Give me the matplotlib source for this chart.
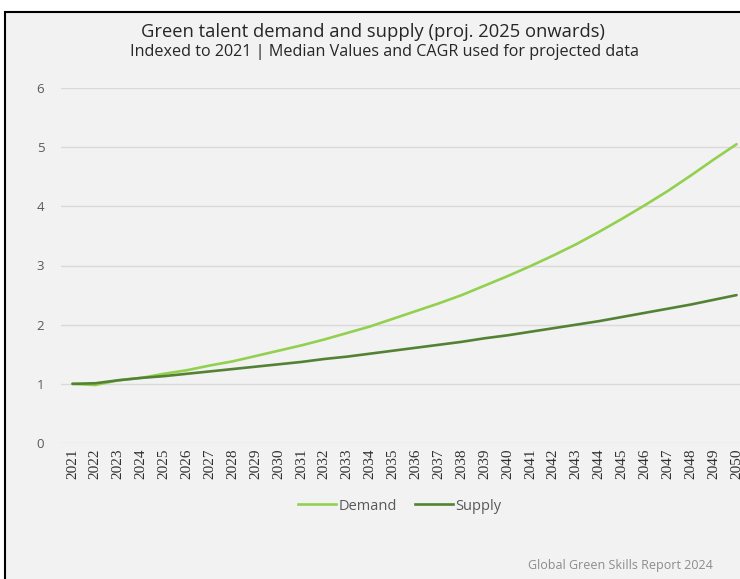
import matplotlib
matplotlib.use("Agg")
import matplotlib.pyplot as plt
from matplotlib.patches import Rectangle
from matplotlib.lines import Line2D

years = [str(y) for y in range(2021, 2051)]
demand = [1.00, 0.98, 1.06, 1.10, 1.17, 1.23, 1.31, 1.38, 1.47, 1.56,
          1.65, 1.75, 1.86, 1.97, 2.10, 2.23, 2.36, 2.50, 2.66, 2.82,
          2.99, 3.17, 3.36, 3.57, 3.79, 4.02, 4.26, 4.52, 4.79, 5.05]
supply = [1.00, 1.01, 1.06, 1.10, 1.13, 1.17, 1.21, 1.25, 1.29, 1.33,
          1.37, 1.42, 1.46, 1.51, 1.56, 1.61, 1.66, 1.71, 1.77, 1.82,
          1.88, 1.94, 2.00, 2.06, 2.13, 2.20, 2.27, 2.34, 2.42, 2.50]
yticks = [0, 1, 2, 3, 4, 5, 6]

W, H = 740, 579
fig = plt.figure(figsize=(W / 100, H / 100), dpi=100)
fig.patch.set_facecolor("white")

# screenshot frame
fig.patches.append(Rectangle((5 / W, -0.2), 1.2, 1.2 - 12 / H, transform=fig.transFigure,
                             facecolor="#f2f2f2", edgecolor="black", linewidth=1.5, zorder=-5))

left = 61 / W
bottom = (H - 443) / H
width = 30 * 22.9 / W
height = (443 - 88) / H
ax = fig.add_axes([left, bottom, width, height])
ax.set_facecolor("none")
ax.set_zorder(2)

x = list(range(len(years)))
demand_color = "#92d050"
supply_color = "#548235"
ax.plot(x, demand, color=demand_color, lw=1.9, solid_capstyle="round", zorder=3)
ax.plot(x, supply, color=supply_color, lw=1.9, solid_capstyle="round", zorder=3)

ax.set_xlim(-0.5, len(years) - 0.5)
ax.set_ylim(0, 6)
ax.set_yticks(yticks)
ax.set_yticklabels([str(v) for v in yticks], family="Open Sans", fontsize=9.5, color="#595959")
ax.set_xticks(x)
ax.set_xticklabels(years, rotation=90, family="Liberation Serif", fontsize=11, color="#303030")
ax.tick_params(axis="both", length=0)
ax.tick_params(axis="y", pad=12)
ax.tick_params(axis="x", pad=4)
ax.grid(axis="y", color="#d9d9d9", lw=1)
ax.set_axisbelow(True)
for s in ax.spines.values():
    s.set_visible(False)

fig.text(373 / W, 1 - 32 / H, "Green talent demand and supply (proj. 2025 onwards)",
         ha="center", va="center", fontsize=13.2, family="Open Sans", color="#262626")
fig.text(384 / W, 1 - 52 / H, "Indexed to 2021 | Median Values and CAGR used for projected data",
         ha="center", va="center", fontsize=11.6, family="Open Sans", color="#262626")

handles = [Line2D([], [], color=demand_color, lw=1.9),
           Line2D([], [], color=supply_color, lw=1.9)]
leg = fig.legend(handles, ["Demand", "Supply"], loc="center", bbox_to_anchor=(400 / W, 1 - 506 / H),
                 ncol=2, frameon=False, handlelength=2.6, handletextpad=0.2, columnspacing=1.2,
                 prop={"family": "Open Sans", "size": 10.5})
for t in leg.get_texts():
    t.set_color("#595959")

fig.text(713 / W, 1 - 565 / H, "Global Green Skills Report 2024", ha="right", va="center",
         fontsize=9, family="Open Sans", color="#8c8c8c")

fig.savefig("out.png", dpi=100, facecolor=fig.get_facecolor())
